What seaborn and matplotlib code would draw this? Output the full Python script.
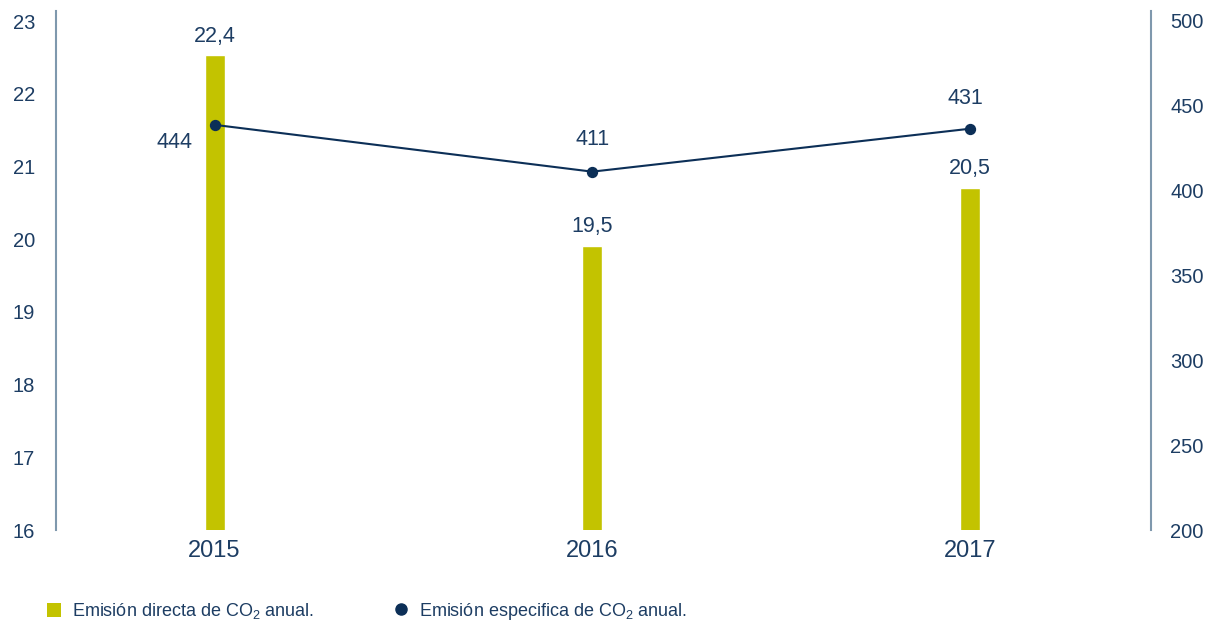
import matplotlib
matplotlib.use("Agg")
import matplotlib.pyplot as plt
import seaborn as sns
import pandas as pd
from matplotlib.patches import Patch
from matplotlib.lines import Line2D

# data
years = ["2015", "2016", "2017"]
direct_co2 = [22.53, 19.91, 20.71]          # bar heights (left axis)
direct_labels = ["22,4", "19,5", "20,5"]
specific_co2 = [438.8, 411.2, 436.5]        # line points (right axis)
specific_labels = ["444", "411", "431"]
legend_labels = ["Emisión directa de CO$_2$ anual.", "Emisión especifica de CO$_2$ anual."]

BAR = "#c3c300"
NAVY = "#0c2f57"
TEXT = "#1d3d63"
SPINE = "#7f98ad"

sns.set_theme(style="white")
plt.rcParams["font.family"] = ["Liberation Sans", "DejaVu Sans"]
plt.rcParams["mathtext.fontset"] = "custom"
plt.rcParams["mathtext.rm"] = "Liberation Sans"
plt.rcParams["mathtext.it"] = "Liberation Sans"

df = pd.DataFrame({"year": years, "direct": direct_co2, "specific": specific_co2})

fig = plt.figure(figsize=(12.11, 6.24), dpi=100)
ax = fig.add_axes([0.0462, 0.1506, 0.9043, 0.8318])
sns.barplot(data=df, x="year", y="direct", color=BAR, width=0.053, saturation=1, ax=ax)
ax.set_ylim(16, 23.14)
ax.set_yticks(range(16, 24))

ax2 = ax.twinx()
sns.pointplot(data=df, x="year", y="specific", color=NAVY, markers="o",
              markersize=7, linewidth=1.5, ax=ax2)
ax2.set_ylim(200, 505.9)
ax2.set_yticks(range(200, 501, 50))
ax.set_xlim(-0.42, 2.48)
ax2.set_xlim(-0.42, 2.48)

for a in (ax, ax2):
    a.set_xlabel("")
    a.set_ylabel("")
    for s in a.spines.values():
        s.set_visible(False)
    a.tick_params(length=0, colors=TEXT, labelsize=14.5)
ax.spines["left"].set_visible(True)
ax.spines["left"].set_color(SPINE)
ax.spines["left"].set_linewidth(1.5)
ax2.spines["right"].set_visible(True)
ax2.spines["right"].set_color(SPINE)
ax2.spines["right"].set_linewidth(1.5)
ax.tick_params(axis="y", pad=15)
ax2.tick_params(axis="y", pad=14)
ax.tick_params(axis="x", labelsize=17, pad=7)
ax.set_zorder(ax2.get_zorder() - 1)
ax2.patch.set_visible(False)

# value labels
for i, (v, lab) in enumerate(zip(direct_co2, direct_labels)):
    ax.annotate(lab, (i, v), xytext=(0, 6), textcoords="offset points",
                ha="center", va="bottom", fontsize=15.5, color=TEXT)
offsets = [(-29, -13), (0, 23), (-3, 22)]
for i, (v, lab) in enumerate(zip(specific_co2, specific_labels)):
    dx, dy = offsets[i]
    ax2.annotate(lab, (i, v), xytext=(dx, dy), textcoords="offset points",
                 ha="center", va="center", fontsize=15.5, color=TEXT)

handles = [Patch(facecolor=BAR, edgecolor="none"),
           Line2D([], [], marker="o", color=NAVY, linestyle="none", markersize=8)]
fig.legend(handles, legend_labels, loc="center left", bbox_to_anchor=(0.025, 0.02),
           ncol=2, frameon=False, fontsize=13, labelcolor=TEXT, handlelength=0.8,
           handleheight=0.8, handletextpad=0.6, columnspacing=4.4)

fig.savefig("out.png", dpi=100)
